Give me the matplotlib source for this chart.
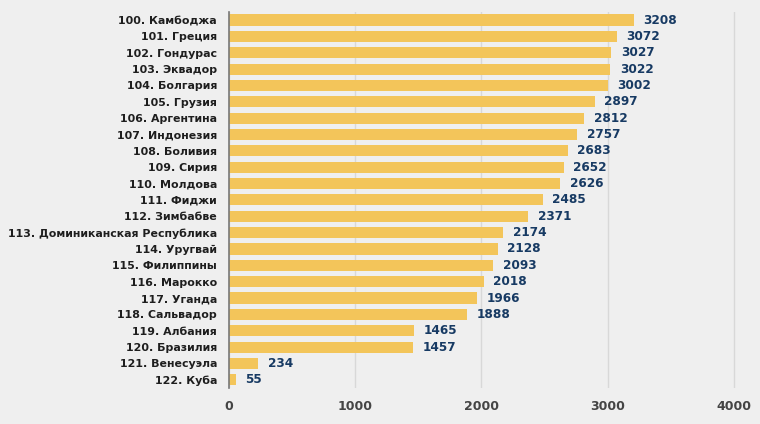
import matplotlib
matplotlib.use("Agg")
import matplotlib.pyplot as plt

countries = [
    "100. Камбоджа", "101. Греция", "102. Гондурас", "103. Эквадор",
    "104. Болгария", "105. Грузия", "106. Аргентина", "107. Индонезия",
    "108. Боливия", "109. Сирия", "110. Молдова", "111. Фиджи",
    "112. Зимбабве", "113. Доминиканская Республика", "114. Уругвай",
    "115. Филиппины", "116. Марокко", "117. Уганда", "118. Сальвадор",
    "119. Албания", "120. Бразилия", "121. Венесуэла", "122. Куба",
]
values = [3208, 3072, 3027, 3022, 3002, 2897, 2812, 2757, 2683, 2652, 2626,
          2485, 2371, 2174, 2128, 2093, 2018, 1966, 1888, 1465, 1457, 234, 55]
xticks = [0, 1000, 2000, 3000, 4000]

plt.rcParams["font.family"] = ["DejaVu Sans"]
bg = "#efefef"

fig = plt.figure(figsize=(7.6, 4.24), dpi=100, facecolor=bg)
ax = fig.add_axes([0.301, 0.085, 0.673, 0.887], facecolor=bg)

pos = list(range(len(countries)))
ax.barh(pos, values, height=0.68, color="#f3c55a", zorder=2)
for p, v in zip(pos, values):
    ax.annotate(str(v), (v, p), xytext=(7, 0), textcoords="offset points",
                va="center", ha="left", fontsize=8.7, fontweight="bold",
                color="#173a63")

ax.set_yticks(pos)
ax.set_yticklabels(countries, fontsize=7.9, fontweight="bold", color="#1e1e1e")
ax.set_ylim(len(countries) - 0.5, -0.5)
ax.set_xlim(0, 4050)
ax.set_xticks(xticks)
ax.set_xticklabels([str(t) for t in xticks], fontsize=9, fontweight="bold",
                   color="#444444")
ax.tick_params(length=0, axis="both")
ax.tick_params(axis="x", pad=9)
ax.tick_params(axis="y", pad=8.5)
ax.grid(axis="x", color="#d8d8d8", linewidth=1, zorder=0)
for s in ["top", "right", "bottom"]:
    ax.spines[s].set_visible(False)
ax.spines["left"].set_color("#777777")
ax.spines["left"].set_linewidth(1.2)
ax.spines["left"].set_zorder(3)

fig.savefig("out.png", dpi=100, facecolor=bg)
